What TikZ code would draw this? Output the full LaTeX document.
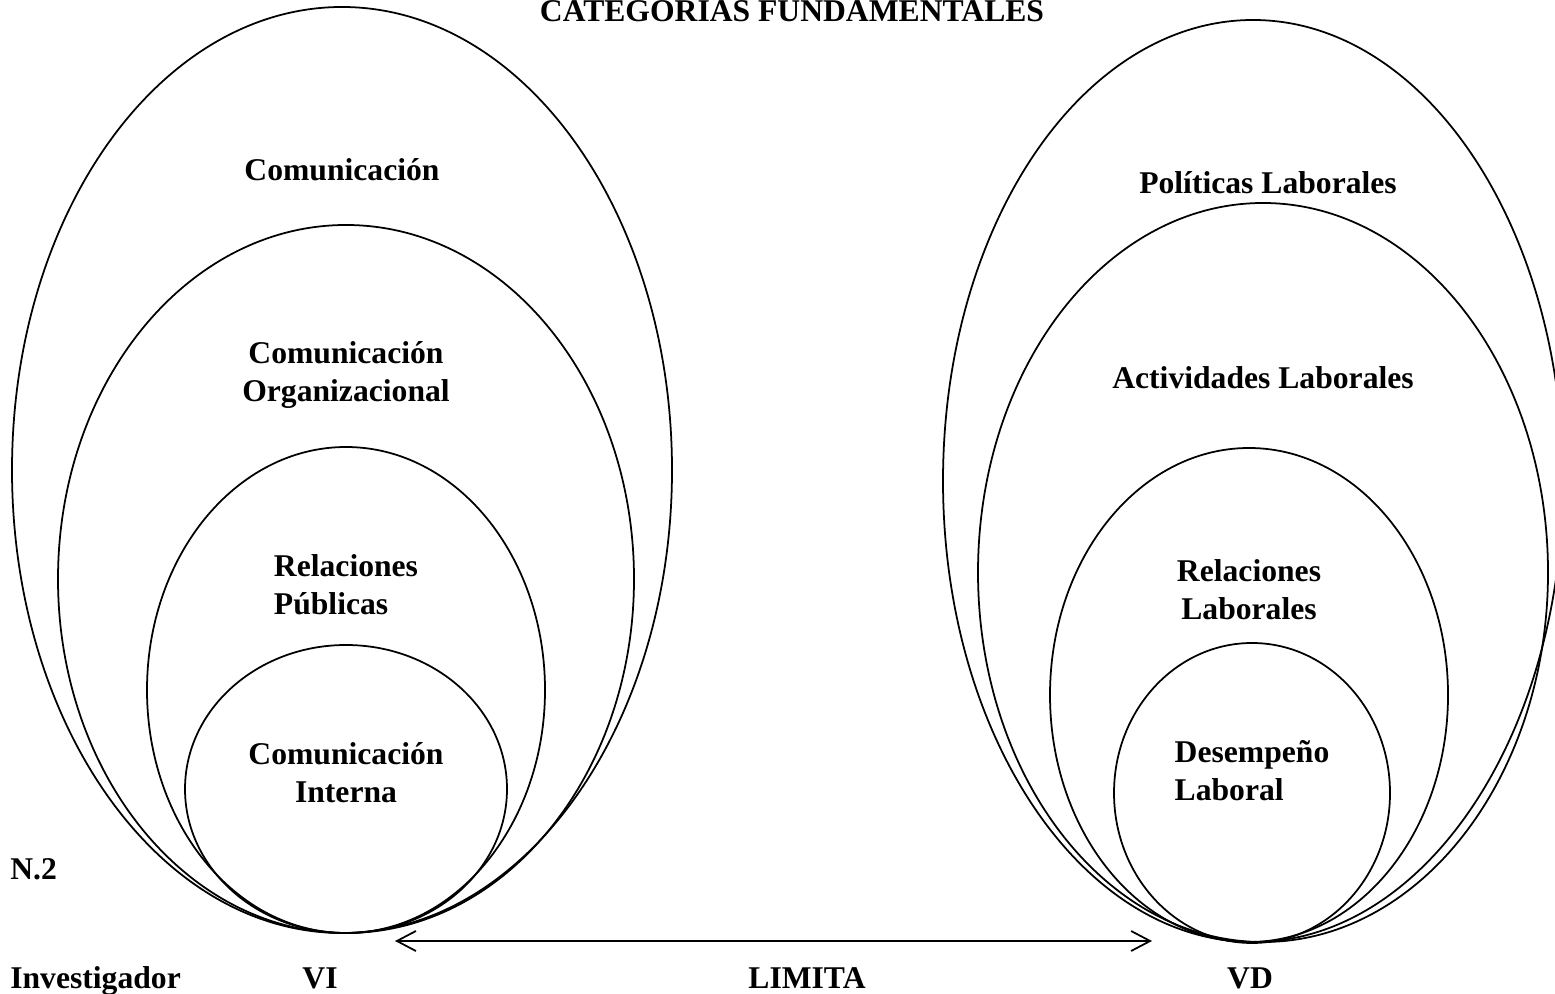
\documentclass[tikz,border=0pt]{standalone}
\usepackage{fontspec}
\setmainfont{Liberation Serif}
\usetikzlibrary{shapes,positioning,arrows.meta}

\tikzset{
  cat/.style={draw, ellipse, line width=1pt, inner sep=0pt, outer sep=0pt, anchor=center},
  lbl/.style={font=\bfseries\fontsize{18}{21.5}\selectfont, align=center, inner sep=0pt},
}

\begin{document}
\begin{tikzpicture}

      \useasboundingbox (0,0) rectangle (31.1,19.86);

      \node[lbl, anchor=base] at (15.84,19.42) (title) {CATEGORIAS FUNDAMENTALES};

      % variable independiente
      \node[cat, minimum width = 13.2 cm,  minimum height = 18.52 cm] at (6.84,10.46) (l1) {};
      \node[cat, minimum width = 11.52 cm, minimum height = 14.16 cm] at (6.92,8.28)  (l2) {};
      \node[cat, minimum width = 7.96 cm,  minimum height = 9.72 cm]  at (6.92,6.06)  (l3) {};
      \node[cat, minimum width = 6.44 cm,  minimum height = 5.76 cm]  at (6.92,4.08)  (l4) {};

      \coordinate[below = 3.26 cm of l1.north] (l1c);
      \coordinate[below = 3.0 cm of l2.north]  (l2c);
      \coordinate[below = 2.76 cm of l3.north] (l3c);
      \coordinate[below = 2.56 cm of l4.north] (l4c);
      \node[lbl] at (l1c) (l1t) {Comunicación};
      \node[lbl] at (l2c) (l2t) {Comunicación\\Organizacional};
      \node[lbl, align=left] at (l3c) (l3t) {Relaciones\\Públicas};
      \node[lbl] at (l4c) (l4t) {Comunicación\\Interna};

      % variable dependiente
      \node[cat, minimum width = 12.4 cm,  minimum height = 18.44 cm] at (25.06,10.24) (r1) {};
      \node[cat, minimum width = 11.4 cm,  minimum height = 14.78 cm] at (25.26,8.41)  (r2) {};
      \node[cat, minimum width = 7.96 cm,  minimum height = 9.88 cm]  at (24.98,5.96)  (r3) {};
      \node[cat, minimum width = 5.52 cm,  minimum height = 6.0 cm]   at (25.04,4.0)   (r4) {};

      \coordinate[below right = 3.26 cm and 0.3 cm of r1.north] (r1c);
      \coordinate[below = 3.5 cm of r2.north]  (r2c);
      \coordinate[below = 2.84 cm of r3.north] (r3c);
      \coordinate[below = 2.56 cm of r4.north] (r4c);
      \node[lbl] at (r1c) (r1t) {Políticas Laborales};
      \node[lbl] at (r2c) (r2t) {Actividades Laborales};
      \node[lbl] at (r3c) (r3t) {Relaciones\\Laborales};
      \node[lbl, align=left] at (r4c) (r4t) {Desempeño\\Laboral};

      % pie
      \node[lbl, anchor=base west] at (0.2,2.28) (n2) {N.2};
      \node[lbl, anchor=base west] at (0.2,0.1)  (inv) {Investigador};
      \node[lbl, anchor=base] at (6.4,0.1)   (vi) {VI};
      \node[lbl, anchor=base] at (16.14,0.1) (lim) {LIMITA};
      \node[lbl, anchor=base] at (25.0,0.1)  (vd) {VD};

      \coordinate[below right = 0.16 cm and 0.98 cm of l4.south] (limL);
      \coordinate[above left = 0.04 cm and 2 cm of r4.south] (limR);
      \draw[line width=1pt, {Straight Barb[length=3.8mm,width=4mm]}-{Straight Barb[length=3.8mm,width=4mm]}] (limL) -- (limR);

\end{tikzpicture}
\end{document}
